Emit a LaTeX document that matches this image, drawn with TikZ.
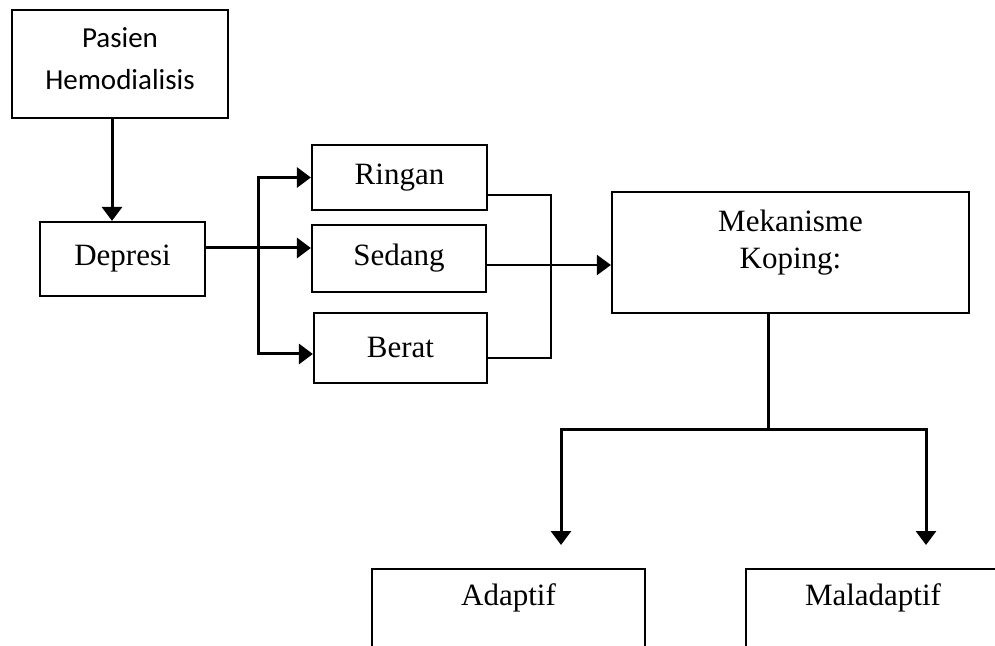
\documentclass[tikz,border=0pt]{standalone}
\usepackage{fontspec}
\setmainfont{Liberation Serif}
\newfontfamily\calibri{Carlito}
\usetikzlibrary{arrows.meta,positioning}

\begin{document}
\begin{tikzpicture}[x=0.5pt, y=-0.5pt, >={Triangle[length=7pt,width=10pt]}, font=\fontsize{15.5}{18.5}\selectfont,
   box/.style={draw, line width=1.1pt, inner sep=0pt, align=center},
   link/.style={line width=1.5pt}, thin link/.style={line width=1.1pt}]
   \clip (0,0) rectangle (995,646);
   \node[box, minimum width=108pt, minimum height=54pt] (pasien) at (120,64) {};
   \node[align=center, font=\calibri\fontsize{14.5}{21}\selectfont] (pasientext) at (120,59) {Pasien\\Hemodialisis};
   \node[box, minimum width=82.5pt, minimum height=37pt]   (depresi) at (122.5,259) {Depresi};
   \node[box, minimum width=87.5pt, minimum height=32.5pt] (ringan)  at (399.5,177.5) {Ringan};
   \node[box, minimum width=87pt, minimum height=33.5pt]   (sedang)  at (399,258.5) {Sedang};
   \node[box, minimum width=86.5pt, minimum height=35pt]   (berat)   at (400.5,348) {Berat};
   \node[box, minimum width=178.5pt, minimum height=60.5pt] (mek)    at (790.5,252.5) {};
   \node[align=center] (mektext) at (790.5,243) {Mekanisme\\Koping:};
   \node[box, minimum width=136.5pt, minimum height=60pt, anchor=north] (adaptif)    at (508.5,568) {};
   \node[box, minimum width=127pt, minimum height=60pt, anchor=north]   (maladaptif) at (873,568) {};
   \node (adaptiftext)    at ([yshift=-15pt]adaptif.north)    {Adaptif};
   \node (maladaptiftext) at ([yshift=-15pt]maladaptif.north) {Maladaptif};

   \coordinate (split)  at (258,248);
   \coordinate (join)   at (551,265);
   \coordinate (branch) at (768,429);
   \coordinate (toA)    at (561,545);
   \coordinate (toM)    at (926,545);

   \draw[link, ->] ([xshift=-4pt]pasien.south) -- ([xshift=-4pt]pasien.south |- depresi.north);
   \draw[link, ->] (depresi.east |- split) -- (sedang.west |- split);
   \draw[link, ->] (split) |- (ringan.west);
   \draw[link, ->] (split) |- ([yshift=-3pt]berat.west);
   \draw[thin link] ([yshift=-8.75pt]ringan.east) -| (join) |- ([yshift=-5pt]berat.east);
   \draw[thin link, ->] (sedang.east |- join) -- (mek.west |- join);
   \draw[link] (mek.south -| branch) -- (branch);
   \draw[link, ->] (branch) -| (toA);
   \draw[link, ->] (branch) -| (toM);
\end{tikzpicture}
\end{document}
